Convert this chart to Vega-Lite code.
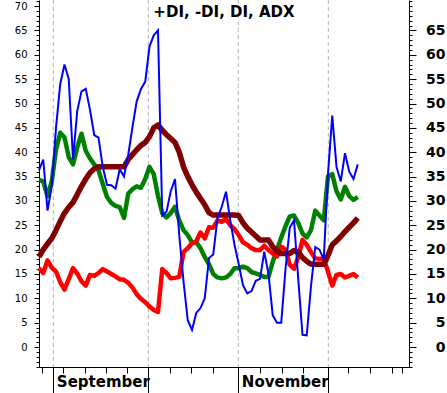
{
  "$schema": "https://vega.github.io/schema/vega-lite/v6.json",
  "width": 370,
  "height": 367,
  "autosize": "none",
  "padding": {"left": 39, "top": 0, "right": 38, "bottom": 26},
  "background": "white",
  "title": {"text": "+DI, -DI, DI, ADX", "font": "DejaVu Sans", "fontSize": 15, "fontWeight": "bold", "color": "black", "anchor": "middle", "frame": "group", "baseline": "top", "offset": -20},
  "datasets": {
    "months": [{"d": 3.37, "m": "September"}, {"d": 25.72, "m": "October"}, {"d": 46.9, "m": "November"}, {"d": 68.07, "m": "December"}],
    "series": [
      {"d":0,"dx":36.3,"pdi":34.3,"adx":18.5,"mdi":16.2},
      {"d":1,"dx":38.5,"pdi":34,"adx":20,"mdi":15.2},
      {"d":2,"dx":28,"pdi":31,"adx":21.2,"mdi":17.8},
      {"d":3,"dx":33,"pdi":34,"adx":22.3,"mdi":16.3},
      {"d":4,"dx":45,"pdi":40.5,"adx":24,"mdi":15.5},
      {"d":5,"dx":54,"pdi":44,"adx":25.8,"mdi":13.3},
      {"d":6,"dx":58,"pdi":43,"adx":27.5,"mdi":11.8},
      {"d":7,"dx":55,"pdi":39,"adx":28.7,"mdi":14},
      {"d":8,"dx":38.5,"pdi":37.5,"adx":29.7,"mdi":16.2},
      {"d":9,"dx":48.5,"pdi":41,"adx":31.3,"mdi":15.1},
      {"d":10,"dx":52.5,"pdi":43.8,"adx":33,"mdi":13.5},
      {"d":11,"dx":53,"pdi":40.3,"adx":34.5,"mdi":12.6},
      {"d":12,"dx":48.7,"pdi":38.7,"adx":35.8,"mdi":14.8},
      {"d":13,"dx":43.5,"pdi":37.5,"adx":36.6,"mdi":14.6},
      {"d":14,"dx":43,"pdi":36.3,"adx":37,"mdi":15.2},
      {"d":15,"dx":37,"pdi":33.5,"adx":37,"mdi":16},
      {"d":16,"dx":33.3,"pdi":30.8,"adx":37,"mdi":15.5},
      {"d":17,"dx":33.2,"pdi":29.6,"adx":37,"mdi":15},
      {"d":18,"dx":32.5,"pdi":29,"adx":37,"mdi":14.5},
      {"d":19,"dx":36.5,"pdi":28.7,"adx":37,"mdi":13.9},
      {"d":20,"dx":35,"pdi":26.5,"adx":37,"mdi":13.8},
      {"d":21,"dx":39.5,"pdi":31.5,"adx":38.5,"mdi":13.2},
      {"d":22,"dx":45.2,"pdi":32.4,"adx":39.5,"mdi":12.2},
      {"d":23,"dx":50.5,"pdi":33,"adx":40.5,"mdi":10.8},
      {"d":24,"dx":53,"pdi":32.7,"adx":41.4,"mdi":9.9},
      {"d":25,"dx":54.5,"pdi":34.5,"adx":42,"mdi":9.2},
      {"d":26,"dx":61.7,"pdi":37,"adx":43.2,"mdi":8.3},
      {"d":27,"dx":64,"pdi":35.5,"adx":45,"mdi":7.6},
      {"d":28,"dx":65,"pdi":31,"adx":45.6,"mdi":7.2},
      {"d":29,"dx":27,"pdi":27.5,"adx":44.5,"mdi":16},
      {"d":30,"dx":27.8,"pdi":26.6,"adx":43.6,"mdi":15.2},
      {"d":31,"dx":32,"pdi":27.5,"adx":42.8,"mdi":14.1},
      {"d":32,"dx":34.5,"pdi":28.8,"adx":42,"mdi":14.2},
      {"d":33,"dx":23,"pdi":26,"adx":40,"mdi":14.4},
      {"d":34,"dx":13.5,"pdi":24,"adx":37,"mdi":19.5},
      {"d":35,"dx":5.5,"pdi":23,"adx":35,"mdi":20.3},
      {"d":36,"dx":3.5,"pdi":21.5,"adx":33.3,"mdi":21.3},
      {"d":37,"dx":7,"pdi":21.5,"adx":31.8,"mdi":21.7},
      {"d":38,"dx":8,"pdi":20.3,"adx":30.5,"mdi":23.5},
      {"d":39,"dx":10,"pdi":18.5,"adx":29.2,"mdi":22.3},
      {"d":40,"dx":18.3,"pdi":17,"adx":27.6,"mdi":24.6},
      {"d":41,"dx":19,"pdi":15,"adx":27.1,"mdi":24.5},
      {"d":42,"dx":26.5,"pdi":14.3,"adx":27.1,"mdi":26},
      {"d":43,"dx":28.8,"pdi":14.1,"adx":27.1,"mdi":25.7},
      {"d":44,"dx":31.9,"pdi":14.3,"adx":27.1,"mdi":26.3},
      {"d":45,"dx":26,"pdi":15,"adx":27.1,"mdi":25},
      {"d":46,"dx":21,"pdi":16.2,"adx":27.1,"mdi":24.2},
      {"d":47,"dx":17,"pdi":16.2,"adx":27,"mdi":23},
      {"d":48,"dx":12.7,"pdi":16.5,"adx":25.5,"mdi":21.5},
      {"d":49,"dx":11,"pdi":16.2,"adx":24.4,"mdi":21},
      {"d":50,"dx":11.5,"pdi":15.4,"adx":23.6,"mdi":20.3},
      {"d":51,"dx":13.6,"pdi":15.1,"adx":22.8,"mdi":19.9},
      {"d":52,"dx":14,"pdi":14.8,"adx":22,"mdi":19.9},
      {"d":53,"dx":19.6,"pdi":14.4,"adx":22,"mdi":20.8},
      {"d":54,"dx":15,"pdi":14.4,"adx":22,"mdi":19.9},
      {"d":55,"dx":6.5,"pdi":17.5,"adx":20.6,"mdi":19.2},
      {"d":56,"dx":5,"pdi":20,"adx":19.7,"mdi":18.6},
      {"d":57,"dx":5,"pdi":22.5,"adx":19.2,"mdi":20.6},
      {"d":58,"dx":16,"pdi":24.8,"adx":19.2,"mdi":20},
      {"d":59,"dx":24.5,"pdi":26.8,"adx":19.2,"mdi":16.9},
      {"d":60,"dx":26,"pdi":27,"adx":19.8,"mdi":16.1},
      {"d":61,"dx":14,"pdi":25.5,"adx":19.5,"mdi":18.5},
      {"d":62,"dx":2.5,"pdi":23.3,"adx":18.4,"mdi":22},
      {"d":63,"dx":2.4,"pdi":22.5,"adx":17.6,"mdi":21},
      {"d":64,"dx":12.5,"pdi":24,"adx":17,"mdi":19.5},
      {"d":65,"dx":20.5,"pdi":28,"adx":17,"mdi":18.2},
      {"d":66,"dx":20,"pdi":27,"adx":17,"mdi":18.1},
      {"d":67,"dx":18,"pdi":26,"adx":17,"mdi":18.1},
      {"d":68,"dx":35.6,"pdi":35,"adx":18.8,"mdi":15.5},
      {"d":69,"dx":47.5,"pdi":35.5,"adx":21,"mdi":12.6},
      {"d":70,"dx":37,"pdi":32,"adx":21.8,"mdi":14.8},
      {"d":71,"dx":34,"pdi":30.3,"adx":22.7,"mdi":15},
      {"d":72,"dx":39.8,"pdi":32.9,"adx":23.7,"mdi":14.3},
      {"d":73,"dx":36,"pdi":31,"adx":24.6,"mdi":14.6},
      {"d":74,"dx":34.5,"pdi":30.2,"adx":25.5,"mdi":15},
      {"d":75,"dx":37.5,"pdi":30.8,"adx":26.5,"mdi":14.3}
    ]
  },
  "layer": [
    {
      "data": {"name": "months"},
      "mark": {"type": "rule", "color": "#b4b4b4", "strokeWidth": 1, "strokeDash": [4, 3]},
      "encoding": {
        "x": {"field": "d", "type": "quantitative", "scale": {"domain": [0, 87.06], "nice": false, "zero": false},
          "axis": {"orient": "bottom", "values": [3.37, 25.72, 46.9, 68.07], "title": null, "grid": false, "domain": false,
            "tickSize": 26, "tickColor": "black", "tickWidth": 1,
            "labelExpr": "datum.value < 10 ? 'September' : (datum.value > 40 && datum.value < 50 ? 'November' : '')",
            "labelAlign": "left", "labelBaseline": "top", "labelPadding": -19, "labelOffset": 3,
            "labelFont": "DejaVu Sans", "labelFontSize": 15, "labelFontWeight": "bold", "labelColor": "black",
            "labelFlush": false, "labelOverlap": false, "labelBound": false}}
      }
    },
    {
      "data": {"name": "series"},
      "mark": {"type": "line", "color": "#008000", "strokeWidth": 4.5, "strokeJoin": "round"},
      "encoding": {
        "x": {"field": "d", "type": "quantitative",
          "axis": {"orient": "bottom", "values": [0.71, 5.72, 10.82, 15.76, 20.78, 25.72, 30.82, 35.76, 41.01, 46.9, 52, 57.1, 62.19, 68.07, 72.78, 77.88, 82.99, 85.34],
            "title": null, "grid": false, "labels": false, "tickSize": 6, "tickColor": "black", "domainColor": "black", "domainWidth": 1}},
        "y": {"field": "pdi", "type": "quantitative", "scale": {"domain": [-4.1, 71.25], "nice": false, "zero": false},
          "axis": {"orient": "left", "values": [0, 5, 10, 15, 20, 25, 30, 35, 40, 45, 50, 55, 60, 65, 70], "title": null, "grid": false,
            "tickSize": 5, "tickColor": "black", "domainColor": "black", "labelPadding": 7,
            "labelFont": "DejaVu Sans", "labelFontSize": 10, "labelColor": "black", "labelFlush": false, "labelOverlap": false}}
      }
    },
    {
      "data": {"name": "series"},
      "mark": {"type": "line", "color": "#ff0000", "strokeWidth": 4.5, "strokeJoin": "round"},
      "encoding": {
        "x": {"field": "d", "type": "quantitative", "axis": null},
        "y": {"field": "mdi", "type": "quantitative",
          "axis": {"orient": "left", "values": [-4,-3,-2,-1,0,1,2,3,4,5,6,7,8,9,10,11,12,13,14,15,16,17,18,19,20,21,22,23,24,25,26,27,28,29,30,31,32,33,34,35,36,37,38,39,40,41,42,43,44,45,46,47,48,49,50,51,52,53,54,55,56,57,58,59,60,61,62,63,64,65,66,67,68,69,70,71],
            "title": null, "grid": false, "labels": false, "domain": false, "tickSize": 3, "tickColor": "black"}}
      }
    },
    {
      "data": {"name": "series"},
      "mark": {"type": "line", "color": "#800000", "strokeWidth": 5.5, "strokeJoin": "round"},
      "encoding": {
        "x": {"field": "d", "type": "quantitative", "axis": null},
        "y": {"field": "adx", "type": "quantitative",
          "axis": {"orient": "right", "values": [0, 5, 10, 15, 20, 25, 30, 35, 40, 45, 50, 55, 60, 65], "title": null, "grid": false,
            "tickSize": 7, "tickColor": "black", "domainColor": "black", "labelPadding": 29, "labelAlign": "right",
            "labelFont": "DejaVu Sans", "labelFontSize": 14, "labelFontWeight": "bold", "labelColor": "black", "labelFlush": false, "labelOverlap": false}}
      }
    },
    {
      "data": {"name": "series"},
      "mark": {"type": "line", "color": "#0000ff", "strokeWidth": 2},
      "encoding": {
        "x": {"field": "d", "type": "quantitative", "axis": null},
        "y": {"field": "dx", "type": "quantitative",
          "axis": {"orient": "right", "values": [-4,-3,-2,-1,0,1,2,3,4,5,6,7,8,9,10,11,12,13,14,15,16,17,18,19,20,21,22,23,24,25,26,27,28,29,30,31,32,33,34,35,36,37,38,39,40,41,42,43,44,45,46,47,48,49,50,51,52,53,54,55,56,57,58,59,60,61,62,63,64,65,66,67,68,69,70,71],
            "title": null, "grid": false, "labels": false, "domain": false, "tickSize": 3, "tickColor": "black"}}
      }
    },
    {
      "mark": {"type": "rule", "color": "#0000ff", "strokeWidth": 4},
      "encoding": {"y": {"datum": 0, "axis": null}}
    }
  ],
  "resolve": {"axis": {"x": "independent", "y": "independent"}},
  "config": {"view": {"stroke": null}}
}
